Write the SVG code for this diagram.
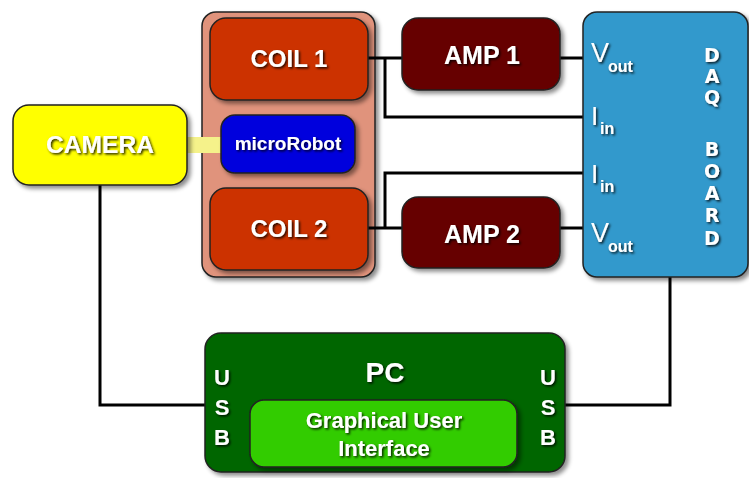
<svg xmlns="http://www.w3.org/2000/svg" width="749" height="478" viewBox="0 0 749 478">
<defs>
<filter id="bs" x="-10%" y="-10%" width="130%" height="130%">
<feDropShadow dx="3" dy="3" stdDeviation="2" flood-color="#000" flood-opacity="0.45"/>
</filter>
<filter id="ts" x="-10%" y="-20%" width="130%" height="160%">
<feDropShadow dx="1.5" dy="1.5" stdDeviation="0.8" flood-color="#000" flood-opacity="0.85"/>
</filter>
</defs>
<style>
.box{stroke:#222;stroke-width:1.5;filter:url(#bs)}
.t{font-family:"Liberation Sans",Arial,sans-serif;font-weight:bold;fill:#fff;text-anchor:middle;filter:url(#ts)}
.d{font-family:"DejaVu Sans",sans-serif;font-weight:bold;fill:#fff;text-anchor:middle;font-size:19px;filter:url(#ts)}
.p{font-family:"Liberation Sans",Arial,sans-serif;fill:#fff;filter:url(#ts)}
.s{font-family:"Liberation Sans",Arial,sans-serif;font-weight:bold;fill:#fff;font-size:16px;filter:url(#ts)}
.w{fill:none;stroke:#000;stroke-width:3}
</style>
<rect width="749" height="478" fill="#fff"/>
<g id="coil-container">
<rect class="box" x="202" y="12" width="173" height="265" rx="14" fill="#e0937b"/>
</g>
<g id="connectors">
<rect x="187" y="137" width="36" height="16" fill="#f5f28a"/>
<polyline class="w" points="100,185 100,405 206,405"/>
<polyline class="w" points="564,405 670,405 670,276"/>
<line class="w" x1="368" y1="58" x2="403" y2="58"/>
<polyline class="w" points="385,58 385,117 584,117"/>
<line class="w" x1="559" y1="58" x2="584" y2="58"/>
<line class="w" x1="368" y1="228" x2="403" y2="228"/>
<polyline class="w" points="385,228 385,173 584,173"/>
<line class="w" x1="559" y1="228" x2="584" y2="228"/>
</g>
<g id="coil1">
<rect class="box" x="210" y="18" width="158" height="82" rx="16" fill="#cc3300"/>
<text class="t" x="289" y="67" font-size="24">COIL 1</text>
</g>
<g id="microrobot">
<rect class="box" x="221" y="115" width="134" height="58" rx="14" fill="#0000dd"/>
<text class="t" x="288" y="150" font-size="19">microRobot</text>
</g>
<g id="coil2">
<rect class="box" x="210" y="188" width="158" height="82" rx="16" fill="#cc3300"/>
<text class="t" x="289" y="237" font-size="24">COIL 2</text>
</g>
<g id="camera">
<rect class="box" x="13" y="105" width="174" height="80" rx="16" fill="#ffff00"/>
<text class="t" x="100" y="153" font-size="23" textLength="108" lengthAdjust="spacingAndGlyphs">CAMERA</text>
</g>
<g id="amp1">
<rect class="box" x="402" y="18" width="158" height="72" rx="16" fill="#660000"/>
<text class="t" x="482" y="64" font-size="25">AMP 1</text>
</g>
<g id="amp2">
<rect class="box" x="402" y="197" width="158" height="71" rx="16" fill="#660000"/>
<text class="t" x="482" y="243" font-size="25">AMP 2</text>
</g>
<g id="daq">
<rect class="box" x="583" y="12" width="165" height="265" rx="14" fill="#3399cc"/>
<text class="p" x="591" y="62" font-size="27">V</text>
<text class="s" x="608" y="72">out</text>
<text class="p" x="591" y="125" font-size="26">I</text>
<text class="s" x="600" y="134">in</text>
<text class="p" x="591" y="183" font-size="26">I</text>
<text class="s" x="600" y="192">in</text>
<text class="p" x="591" y="242" font-size="27">V</text>
<text class="s" x="608" y="252">out</text>
<text class="d" x="712" y="62">D</text>
<text class="d" x="712" y="83">A</text>
<text class="d" x="712" y="104">Q</text>
<text class="d" x="712" y="156">B</text>
<text class="d" x="712" y="178">O</text>
<text class="d" x="712" y="200">A</text>
<text class="d" x="712" y="222">R</text>
<text class="d" x="712" y="245">D</text>
</g>
<g id="pc">
<rect class="box" x="205" y="333" width="360" height="139" rx="16" fill="#006600"/>
<text class="t" x="385" y="382" font-size="28">PC</text>
<text class="t" x="222" y="385" font-size="22">U</text>
<text class="t" x="222" y="415" font-size="22">S</text>
<text class="t" x="222" y="445" font-size="22">B</text>
<text class="t" x="548" y="385" font-size="22">U</text>
<text class="t" x="548" y="415" font-size="22">S</text>
<text class="t" x="548" y="445" font-size="22">B</text>
</g>
<g id="gui">
<rect class="box" x="250" y="400" width="267" height="67" rx="14" fill="#33cc00"/>
<text class="t" x="384" y="428" font-size="22">Graphical User</text>
<text class="t" x="384" y="456" font-size="22">Interface</text>
</g>
</svg>
